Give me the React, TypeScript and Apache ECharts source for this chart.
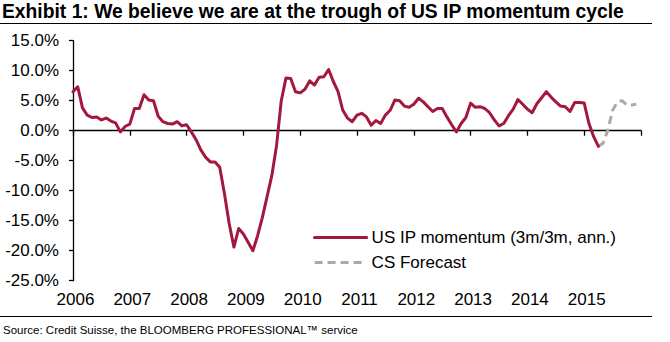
import React, { useEffect, useRef } from "react";
import * as echarts from "echarts";

const TITLE = "Exhibit 1: We believe we are at the trough of US IP momentum cycle";
const SOURCE = "Source: Credit Suisse, the BLOOMBERG PROFESSIONAL\u2122 service";
const SERIES_ACTUAL = "US IP momentum (3m/3m, ann.)";
const SERIES_FORECAST = "CS Forecast";

// Monthly categories Jan 2006 .. Jan 2016
const months: string[] = [];
for (let y = 2006; y <= 2016; y++) {
  for (let m = 1; m <= 12; m++) {
    if (y === 2016 && m > 1) break;
    months.push(`${y}-${String(m).padStart(2, "0")}`);
  }
}

// US IP momentum, Jan 2006 .. Apr 2015 (%)
const actualValues: number[] = [
  6.5, 7.3, 3.8, 2.6, 2.2, 2.3, 1.8, 2.1, 1.6, 1.3, -0.2, 0.7, // 2006
  1.1, 3.7, 3.7, 6.0, 5.1, 5.0, 2.4, 1.5, 1.2, 1.1, 1.5, 0.8, // 2007
  1.0, -0.2, -1.5, -3.2, -4.4, -5.2, -5.2, -6.1, -10.5, -15.5, -19.4, -16.3, // 2008
  -17.2, -18.6, -20.0, -17.5, -14.5, -11.0, -7.5, -2.5, 5.0, 8.8, 8.7, 6.5, // 2009
  6.3, 6.9, 8.3, 7.6, 8.9, 9.0, 10.2, 8.2, 6.5, 3.4, 2.1, 1.5, // 2010
  2.6, 2.9, 2.3, 0.9, 1.7, 1.2, 2.6, 3.4, 5.1, 5.0, 4.1, 3.9, // 2011
  4.4, 5.4, 4.8, 4.0, 3.2, 3.7, 3.7, 2.3, 1.0, -0.2, 1.2, 2.2, // 2012
  4.6, 3.9, 4.0, 3.7, 3.0, 1.8, 0.8, 1.2, 2.5, 3.6, 5.2, 4.4, // 2013
  3.6, 3.0, 4.5, 5.5, 6.5, 5.6, 4.8, 4.1, 4.0, 3.2, 4.7, 4.7, // 2014
  4.6, 1.2, -1.0, -2.6, // 2015 Jan-Apr
];

// CS forecast, Apr 2015 .. Dec 2015 (%)
const forecastStartIndex = 111;
const forecastValues: number[] = [-2.6, -2.1, 0.1, 3.4, 4.8, 5.0, 4.3, 4.3, 4.4];

const yTicks = { min: -25, max: 15, interval: 5 };

const RED = "#A3183D";
const GREY = "#B0A9A2";
const FONT = "'Liberation Sans', Arial, sans-serif";

export default function App() {
  const ref = useRef<HTMLDivElement>(null);

  useEffect(() => {
    if (!ref.current) return;
    const chart = echarts.init(ref.current, undefined, { renderer: "svg" });

    const actual = months.map((_, i) => (i < actualValues.length ? actualValues[i] : null));
    const forecast = months.map((_, i) => {
      const k = i - forecastStartIndex;
      return k >= 0 && k < forecastValues.length ? forecastValues[k] : null;
    });

    chart.setOption({
      animation: false,
      textStyle: { fontFamily: FONT },
      title: {
        text: TITLE,
        left: 2,
        top: 2,
        padding: 0,
        textStyle: { fontFamily: FONT, fontSize: 19.3, fontWeight: "bold", color: "#000" },
      },
      grid: { left: 73, right: 29, top: 40.7, bottom: 61.3, containLabel: false },
      legend: {
        orient: "vertical",
        left: 313,
        top: 229,
        itemWidth: 52,
        itemHeight: 14,
        itemGap: 8,
        padding: 0,
        itemStyle: { opacity: 0 },
        lineStyle: { width: 3.2 },
        textStyle: { fontFamily: FONT, fontSize: 17, color: "#000", lineHeight: 17 },
        data: [SERIES_ACTUAL, SERIES_FORECAST],
      },
      xAxis: [
        {
          type: "category",
          data: months,
          boundaryGap: false,
          axisLine: { show: true, onZero: true, lineStyle: { color: "#000", width: 1.3 } },
          axisTick: { show: true, interval: 11, length: 5, lineStyle: { color: "#000", width: 1.3 } },
          axisLabel: { show: false },
          splitLine: { show: false },
        },
        {
          type: "category",
          data: months,
          boundaryGap: false,
          position: "bottom",
          axisLine: { show: false, onZero: false },
          axisTick: { show: false },
          axisLabel: {
            show: true,
            interval: 11,
            margin: 10,
            fontFamily: FONT,
            fontSize: 17,
            color: "#000",
            padding: [0, 0, 0, 5],
            formatter: (v: string) => (v.startsWith("2016") ? "" : v.slice(0, 4)),
          },
          splitLine: { show: false },
        },
      ],
      yAxis: {
        type: "value",
        min: yTicks.min,
        max: yTicks.max,
        interval: yTicks.interval,
        axisLine: { show: true, lineStyle: { color: "#000", width: 1.3 } },
        axisTick: { show: true, length: 4, lineStyle: { color: "#000", width: 1.3 } },
        axisLabel: {
          margin: 14,
          fontFamily: FONT,
          fontSize: 17,
          color: "#000",
          formatter: (v: number) => v.toFixed(1) + "%",
        },
        splitLine: { show: false },
      },
      series: [
        {
          name: SERIES_ACTUAL,
          type: "line",
          xAxisIndex: 0,
          data: actual,
          showSymbol: false,
          symbol: "none",
          connectNulls: false,
          lineStyle: { color: RED, width: 3, join: "round", cap: "round" },
          itemStyle: { color: RED },
          z: 3,
        },
        {
          name: SERIES_FORECAST,
          type: "line",
          xAxisIndex: 0,
          data: forecast,
          showSymbol: false,
          symbol: "none",
          lineStyle: { color: GREY, width: 3, type: [8, 5] },
          itemStyle: { color: GREY },
          z: 2,
        },
      ],
      graphic: [
        {
          type: "line",
          shape: { x1: 0, y1: 23.5, x2: 652, y2: 23.5 },
          style: { stroke: "#000", lineWidth: 1.2 },
        },
        {
          type: "line",
          shape: { x1: 0, y1: 316.5, x2: 652, y2: 316.5 },
          style: { stroke: "#000", lineWidth: 1.2 },
        },
        {
          type: "text",
          left: 3,
          top: 324,
          style: { text: SOURCE, fontFamily: FONT, fontSize: 11.5, fill: "#000" },
        },
      ],
    });

    return () => chart.dispose();
  }, []);

  return (
    <div
      ref={ref}
      style={{ position: "fixed", left: 0, top: 0, width: 670, height: 342, background: "#fff" }}
    />
  );
}
